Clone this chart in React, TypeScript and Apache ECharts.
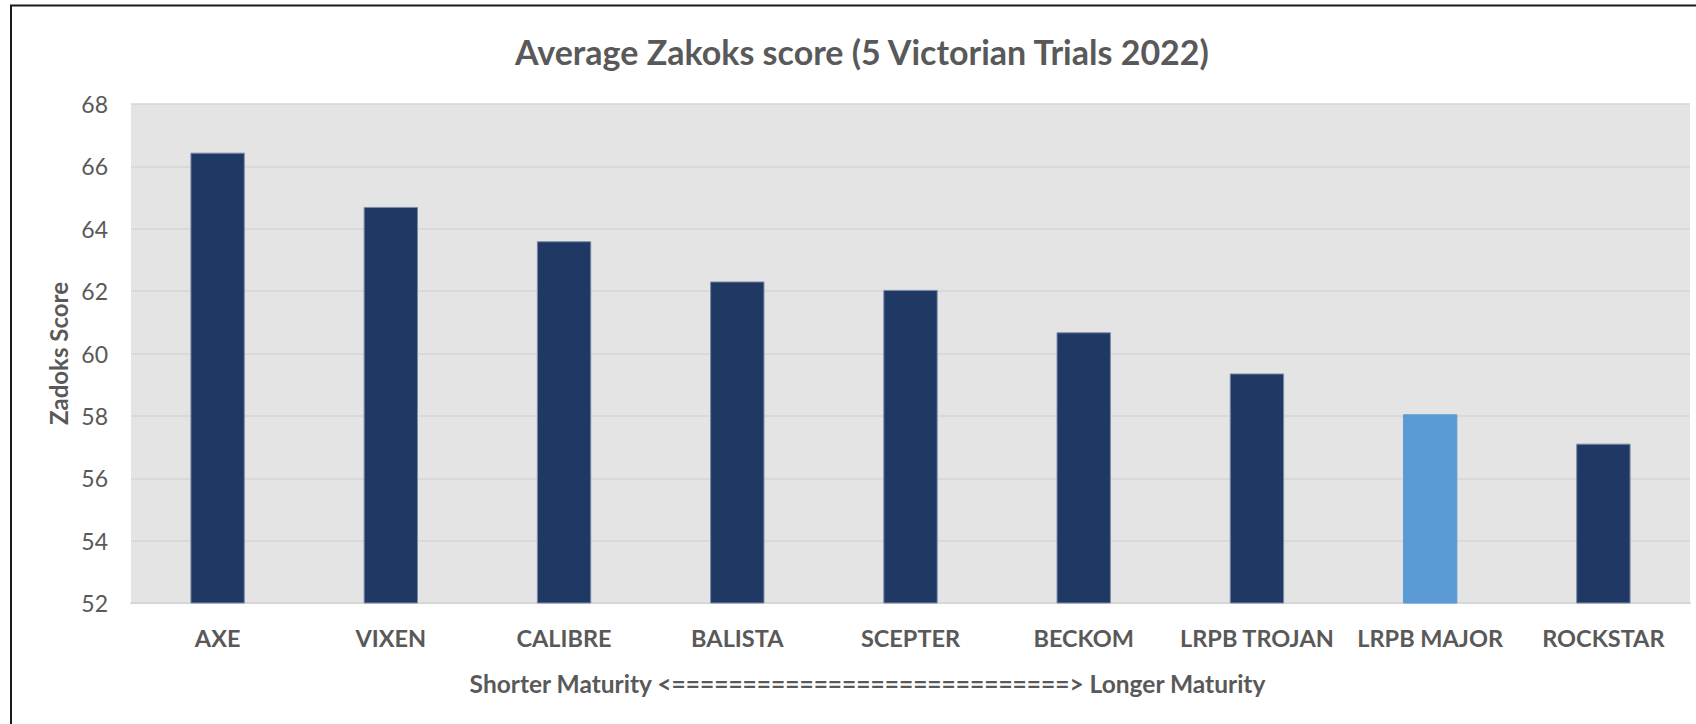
import React, { useEffect, useRef } from "react";
import * as echarts from "echarts";

const categories = [
  "AXE",
  "VIXEN",
  "CALIBRE",
  "BALISTA",
  "SCEPTER",
  "BECKOM",
  "LRPB TROJAN",
  "LRPB MAJOR",
  "ROCKSTAR",
];
const scores = [66.44, 64.7, 63.6, 62.31, 62.04, 60.68, 59.36, 58.05, 57.11];
const highlighted = "LRPB MAJOR";
const titleText = "Average Zakoks score (5 Victorian Trials 2022)";
const yAxisTitle = "Zadoks Score";
const xAxisTitle =
  "Shorter Maturity <============================> Longer Maturity";
const yMin = 52;
const yMax = 68;
const yStep = 2;

const FONT = "Lato, 'Open Sans', sans-serif";
const TEXT = "#595959";
const DARK = "#1F3864";
const LIGHT = "#5B9BD5";

export default function App() {
  const ref = useRef<HTMLDivElement>(null);

  useEffect(() => {
    document.body.style.margin = "0";
    document.body.style.overflow = "hidden";
    if (!ref.current) return;
    const chart = echarts.init(ref.current, undefined, { renderer: "svg" });
    chart.setOption({
      animation: false,
      backgroundColor: "#ffffff",
      title: {
        text: titleText,
        left: 857,
        top: 27,
        textAlign: "center",
        textStyle: {
          fontFamily: FONT,
          fontWeight: "bold",
          fontSize: 34,
          lineHeight: 38,
          color: TEXT,
        },
      },
      graphic: [
        {
          type: "rect",
          silent: true,
          shape: { x: 11, y: 5.5, width: 1800, height: 900 },
          style: { fill: "none", stroke: "#1a1a1a", lineWidth: 2 },
          z: 100,
        },
      ],
      grid: {
        left: 131,
        right: 6,
        top: 104,
        bottom: 121,
        show: true,
        backgroundColor: "#E4E4E4",
        borderWidth: 0,
        containLabel: false,
      },
      xAxis: {
        type: "category",
        data: categories,
        name: xAxisTitle,
        nameLocation: "middle",
        nameGap: 68,
        nameTextStyle: {
          fontFamily: FONT,
          fontWeight: "bold",
          fontSize: 24.5,
          color: TEXT,
          padding: [0, 86, 0, 0],
        },
        axisLine: { show: true, lineStyle: { color: "#D6D6D6", width: 2 } },
        axisTick: { show: false },
        axisLabel: {
          fontFamily: FONT,
          fontWeight: "bold",
          fontSize: 23.5,
          color: TEXT,
          margin: 23,
          interval: 0,
        },
      },
      yAxis: {
        type: "value",
        min: yMin,
        max: yMax,
        interval: yStep,
        name: yAxisTitle,
        nameLocation: "middle",
        nameRotate: 90,
        nameGap: 50,
        nameTextStyle: {
          fontFamily: FONT,
          fontWeight: "bold",
          fontSize: 24,
          color: TEXT,
        },
        axisLine: { show: false },
        axisTick: { show: false },
        axisLabel: {
          fontFamily: FONT,
          fontSize: 23,
          color: TEXT,
          margin: 23,
        },
        splitLine: { show: true, lineStyle: { color: "#D6D6D6", width: 1.5 } },
      },
      series: [
        {
          type: "bar",
          data: scores.map((v, i) => ({
            value: v,
            itemStyle: {
              color: categories[i] === highlighted ? LIGHT : DARK,
              borderColor: categories[i] === highlighted ? LIGHT : "#7D8CA8",
              borderWidth: 1,
            },
          })),
          barWidth: "31.4%",
        },
      ],
    });
    return () => chart.dispose();
  }, []);

  return <div ref={ref} style={{ width: 1696, height: 724 }} />;
}
